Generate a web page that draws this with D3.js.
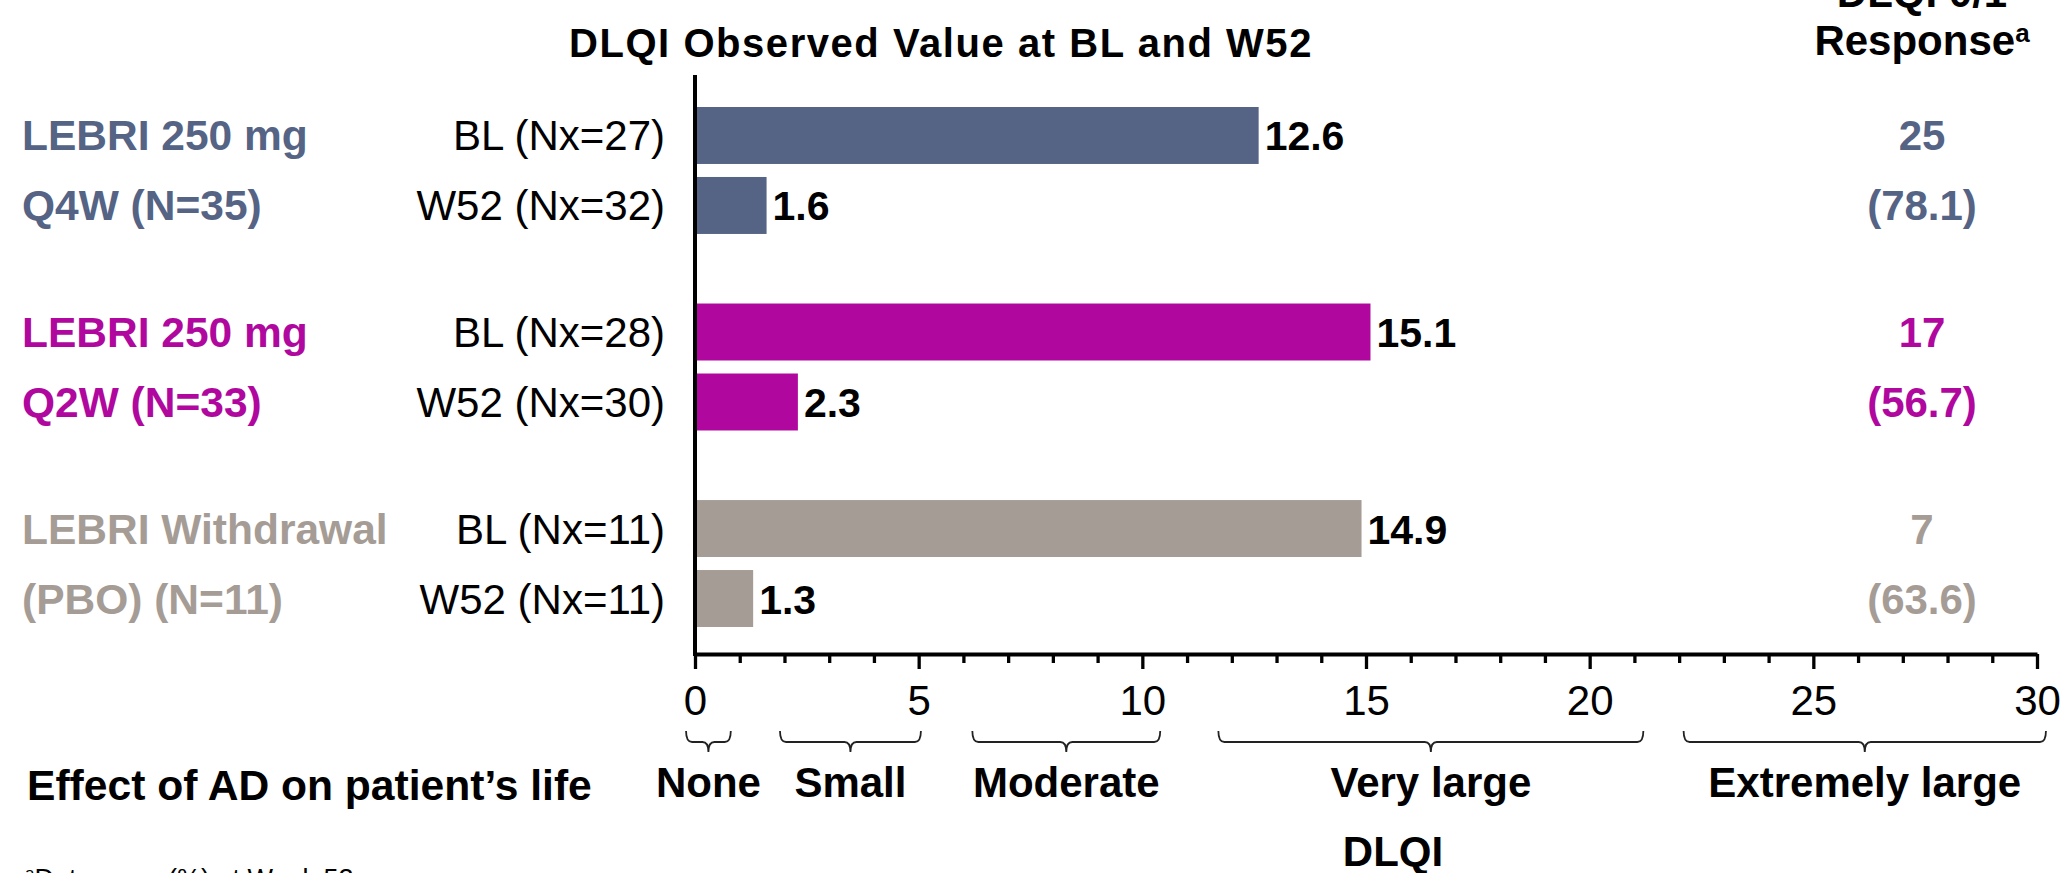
<!DOCTYPE html>
<html>
<head>
<meta charset="utf-8">
<script src="https://cdn.jsdelivr.net/npm/d3@7"></script>
<style>
  html, body { margin: 0; padding: 0; background: #fff; }
  svg { display: block; font-family: "Liberation Sans", Arial, Helvetica, sans-serif; }
</style>
</head>
<body>
<svg id="chart" width="2072" height="873"></svg>
<script>
// ---------------- data ----------------
const groupKeys = ["Q4W", "Q2W", "PBO"];
const groupLabelTop = ["LEBRI 250 mg", "LEBRI 250 mg", "LEBRI Withdrawal"];
const groupLabelBottom = ["Q4W (N=35)", "Q2W (N=33)", "(PBO) (N=11)"];
const timepoints = ["BL", "W52"];
const nxBL = [27, 28, 11];
const nxW52 = [32, 30, 11];
const valuesBL = [12.6, 15.1, 14.9];
const valuesW52 = [1.6, 2.3, 1.3];
const responseN = [25, 17, 7];
const responsePct = ["78.1", "56.7", "63.6"];
const groupColors = ["#556385", "#B0089E", "#A59C96"];
const xDomain = [0, 30];
const xMajorTicks = [0, 5, 10, 15, 20, 25, 30];
const effectCategories = ["None", "Small", "Moderate", "Very large", "Extremely large"];
const effectRanges = [[-0.2, 0.8], [1.9, 5.05], [6.2, 10.4], [11.7, 21.2], [22.1, 30.2]];

// ---------------- layout ----------------
const svg = d3.select("#chart");
const FONT = 42;
const x = d3.scaleLinear().domain(xDomain).range([695, 2037]);
const yGroup = d3.scaleBand().domain(groupKeys).range([107, 627]).paddingInner(0.354).paddingOuter(0);
const yInner = d3.scaleBand().domain(timepoints).range([0, yGroup.bandwidth()]).paddingInner(0.186).paddingOuter(0);
const axisY = 654;

const rows = [];
groupKeys.forEach((g, i) => {
  rows.push({g, i, tp: "BL", nx: nxBL[i], v: valuesBL[i]});
  rows.push({g, i, tp: "W52", nx: nxW52[i], v: valuesW52[i]});
});
const rowCenter = d => yGroup(d.g) + yInner(d.tp) + yInner.bandwidth() / 2;

// title
svg.append("text")
  .attr("x", 941).attr("y", 57)
  .attr("text-anchor", "middle")
  .attr("font-size", 40).attr("font-weight", "bold")
  .attr("letter-spacing", 1.55)
  .text("DLQI Observed Value at BL and W52");

// right header
svg.append("text")
  .attr("x", 1922).attr("y", 7)
  .attr("text-anchor", "middle")
  .attr("font-size", FONT).attr("font-weight", "bold")
  .text("DLQI 0/1");
const resp = svg.append("text")
  .attr("x", 1922).attr("y", 55)
  .attr("text-anchor", "middle")
  .attr("font-size", FONT).attr("font-weight", "bold");
resp.append("tspan").text("Response");
resp.append("tspan").attr("font-size", 26).attr("dy", -13).text("a");

// bars
svg.append("g").selectAll("rect").data(rows).join("rect")
  .attr("x", x(0))
  .attr("y", d => yGroup(d.g) + yInner(d.tp))
  .attr("width", d => x(d.v) - x(0))
  .attr("height", yInner.bandwidth())
  .attr("fill", d => groupColors[d.i]);

// value labels
svg.append("g").selectAll("text").data(rows).join("text")
  .attr("x", d => x(d.v) + 6)
  .attr("y", d => rowCenter(d) + 15)
  .attr("font-size", 41).attr("font-weight", "bold")
  .attr("fill", "#000")
  .text(d => d.v.toFixed(1));

// row labels
svg.append("g").selectAll("text").data(rows).join("text")
  .attr("x", 665)
  .attr("y", d => rowCenter(d) + 15)
  .attr("text-anchor", "end")
  .attr("font-size", FONT)
  .text(d => `${d.tp} (Nx=${d.nx})`);

// group labels
const gl = svg.append("g").selectAll("g").data(groupKeys).join("g");
gl.append("text")
  .attr("x", 22)
  .attr("y", (g) => yGroup(g) + yInner("BL") + yInner.bandwidth() / 2 + 15)
  .attr("font-size", 42.5).attr("font-weight", "bold")
  .attr("fill", (g, i) => groupColors[i])
  .text((g, i) => groupLabelTop[i]);
gl.append("text")
  .attr("x", 22)
  .attr("y", (g) => yGroup(g) + yInner("W52") + yInner.bandwidth() / 2 + 15)
  .attr("font-size", 42.5).attr("font-weight", "bold")
  .attr("fill", (g, i) => groupColors[i])
  .text((g, i) => groupLabelBottom[i]);

// response column
const rc = svg.append("g").selectAll("g").data(groupKeys).join("g");
rc.append("text")
  .attr("x", 1922)
  .attr("y", (g) => yGroup(g) + yInner("BL") + yInner.bandwidth() / 2 + 15)
  .attr("text-anchor", "middle")
  .attr("font-size", FONT).attr("font-weight", "bold")
  .attr("fill", (g, i) => groupColors[i])
  .text((g, i) => responseN[i]);
rc.append("text")
  .attr("x", 1922)
  .attr("y", (g) => yGroup(g) + yInner("W52") + yInner.bandwidth() / 2 + 15)
  .attr("text-anchor", "middle")
  .attr("font-size", FONT).attr("font-weight", "bold")
  .attr("fill", (g, i) => groupColors[i])
  .text((g, i) => `(${responsePct[i]})`);

// y axis line
svg.append("line")
  .attr("x1", x(0)).attr("x2", x(0))
  .attr("y1", 75).attr("y2", axisY + 2)
  .attr("stroke", "#000").attr("stroke-width", 4);

// x axis
const xAxis = d3.axisBottom(x)
  .tickValues(d3.range(xDomain[0], xDomain[1] + 1, 1))
  .tickFormat(d => xMajorTicks.includes(d) ? d : "")
  .tickSize(15)
  .tickSizeOuter(0)
  .tickPadding(16);
const ax = svg.append("g").attr("transform", `translate(0,${axisY})`).call(xAxis);
ax.select(".domain").attr("stroke", "#000").attr("stroke-width", 4);
ax.selectAll(".tick line")
  .attr("stroke", "#000").attr("stroke-width", 3.3)
  .attr("y2", d => xMajorTicks.includes(d) ? 15 : 9);
ax.selectAll(".tick text")
  .attr("font-size", FONT)
  .attr("font-family", "\"Liberation Sans\", Arial, sans-serif")
  .attr("fill", "#000");

// brackets
const bTop = 731, bMid = 742, bTip = 752, r = 6;
const brackets = svg.append("g").selectAll("g").data(effectCategories).join("g");
brackets.append("path")
  .attr("fill", "none").attr("stroke", "#222").attr("stroke-width", 1.8)
  .attr("d", (c, i) => {
    const x0 = x(effectRanges[i][0]), x1 = x(effectRanges[i][1]);
    const cx = (x0 + x1) / 2;
    return `M${x0},${bTop} Q${x0},${bMid} ${x0 + r},${bMid} L${cx - r},${bMid} Q${cx},${bMid} ${cx},${bTip}` +
           ` Q${cx},${bMid} ${cx + r},${bMid} L${x1 - r},${bMid} Q${x1},${bMid} ${x1},${bTop}`;
  });
brackets.append("text")
  .attr("x", (c, i) => (x(effectRanges[i][0]) + x(effectRanges[i][1])) / 2)
  .attr("y", 797)
  .attr("text-anchor", "middle")
  .attr("font-size", FONT).attr("font-weight", "bold")
  .text(c => c);

svg.append("text")
  .attr("x", 27).attr("y", 800)
  .attr("font-size", 42.6).attr("font-weight", "bold")
  .text("Effect of AD on patient\u2019s life");

svg.append("text")
  .attr("x", 1393).attr("y", 866)
  .attr("text-anchor", "middle")
  .attr("font-size", FONT).attr("font-weight", "bold")
  .text("DLQI");

// footnote
const fn = svg.append("text")
  .attr("x", 25).attr("y", 888)
  .attr("font-size", 27);
fn.append("tspan").attr("font-size", 17).attr("dy", -9).text("a");
fn.append("tspan").attr("dy", 9).text("Data are n (%) at Week 52");
</script>
</body>
</html>
